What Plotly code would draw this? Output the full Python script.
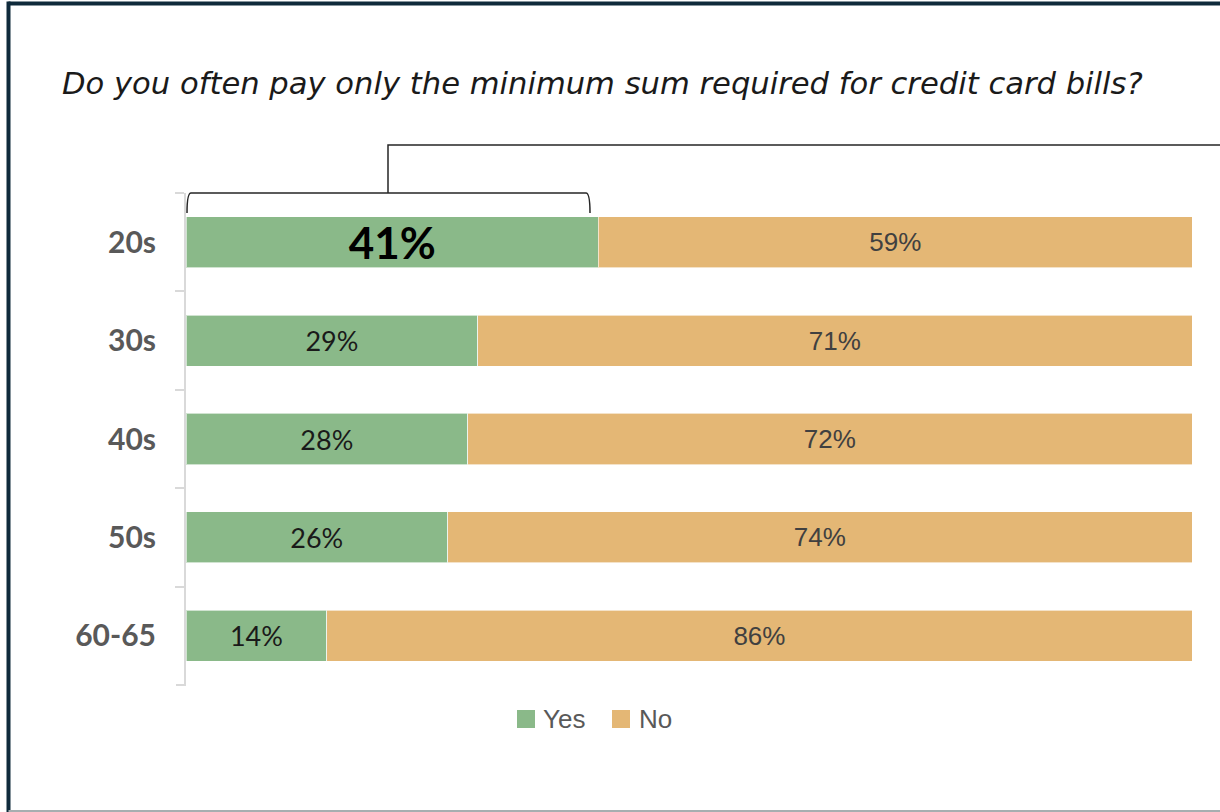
import plotly.graph_objects as go

# Survey results by age group
age_groups = ["20s", "30s", "40s", "50s", "60-65"]
yes_pct = [41, 29, 28, 26, 14]
no_pct = [59, 71, 72, 74, 86]
series_names = ["Yes", "No"]
series_colors = ["#8AB989", "#E4B775"]

title_text = "Do you often pay only the minimum sum required for credit card bills?"

W, H = 1220, 812
ML, MR, MT, MB = 186, 28, 193, 127
PW, PH = W - ML - MR, H - MT - MB


def px_x(px):
    """Pixel x -> paper x."""
    return (px - ML) / PW


def px_y(py):
    """Pixel y (from top) -> paper y."""
    return (H - MB - py) / PH


# Highlight the largest "Yes" share
top = max(yes_pct)
yes_text = [f"<b>{v}%</b>" if v == top else f"{v}%" for v in yes_pct]
yes_sizes = [44 if v == top else 27 for v in yes_pct]
yes_colors = ["#000000" if v == top else "#1a1a1a" for v in yes_pct]

fig = go.Figure()
fig.add_trace(go.Bar(
    y=age_groups, x=yes_pct, orientation="h", name=series_names[0],
    marker=dict(color=series_colors[0], line=dict(color="rgba(255,255,255,0.6)", width=1)),
    text=yes_text, textposition="inside", insidetextanchor="middle",
    constraintext="none",
    textfont=dict(family="Lato", size=yes_sizes, color=yes_colors),
    hoverinfo="skip",
))
fig.add_trace(go.Bar(
    y=age_groups, x=no_pct, orientation="h", name=series_names[1],
    marker=dict(color=series_colors[1], line=dict(color="rgba(255,255,255,0.6)", width=1)),
    text=[f"{v}%" for v in no_pct], textposition="inside", insidetextanchor="middle",
    constraintext="none",
    textfont=dict(family="Liberation Sans, Arial", size=26, color="#404040"),
    hoverinfo="skip",
))

shapes = []
# Bracket over the 20s "Yes" segment, with a leader line running right
x0b, x1b = px_x(187), px_x(590)
xm = px_x(388)
yb_top, yb_end = px_y(193), px_y(213)
shapes.append(dict(
    type="path", xref="paper", yref="paper",
    path=(f"M {x0b} {yb_end} Q {x0b} {yb_top} {px_x(191)} {yb_top} "
          f"L {px_x(586)} {yb_top} Q {x1b} {yb_top} {x1b} {yb_end}"),
    line=dict(color="#262626", width=1.5),
))
shapes.append(dict(
    type="path", xref="paper", yref="paper",
    path=f"M {xm} {yb_top} L {xm} {px_y(145)} L {px_x(1222)} {px_y(145)}",
    line=dict(color="#262626", width=1.5),
))

# Closing tick at the bottom of the category axis
shapes.append(dict(type="line", xref="paper", yref="paper",
                   x0=px_x(176), x1=px_x(186), y0=0, y1=0,
                   line=dict(color="#D9D9D9", width=2)))

# Outer frame: dark top and left edges, grey bottom edge
frame_dark = "#0F2A3B"
shapes.append(dict(type="line", xref="paper", yref="paper",
                   x0=px_x(8.5), x1=px_x(1222), y0=px_y(3.5), y1=px_y(3.5),
                   line=dict(color=frame_dark, width=4)))
shapes.append(dict(type="line", xref="paper", yref="paper",
                   x0=px_x(8.5), x1=px_x(8.5), y0=px_y(1.5), y1=px_y(814),
                   line=dict(color=frame_dark, width=4)))
shapes.append(dict(type="line", xref="paper", yref="paper",
                   x0=px_x(8.5), x1=px_x(1222), y0=px_y(811), y1=px_y(811),
                   line=dict(color="#A6AEB0", width=2)))

# Legend drawn as swatches and labels
annotations = []
legend_items = [(517, 541), (612, 637)]
for (sx, tx), name, color in zip(legend_items, series_names, series_colors):
    shapes.append(dict(type="rect", xref="paper", yref="paper",
                       x0=px_x(sx), x1=px_x(sx + 18), y0=px_y(710), y1=px_y(728),
                       fillcolor=color, line=dict(width=0)))
    annotations.append(dict(xref="paper", yref="paper", x=px_x(tx), y=px_y(719),
                            xanchor="left", yanchor="middle", showarrow=False,
                            text=name, font=dict(family="Liberation Sans, Arial", size=26, color="#595959")))

fig.update_layout(
    width=W, height=H,
    margin=dict(l=ML, r=MR, t=MT, b=MB),
    paper_bgcolor="white", plot_bgcolor="white",
    barmode="stack", bargap=0.48,
    showlegend=False,
    title=dict(text=f"<i>{title_text}</i>", xref="container", yref="container",
               x=62 / W, xanchor="left", y=1 - 83 / H, yanchor="middle",
               font=dict(family="DejaVu Sans", size=30.6, color="#1a1a1a")),
    xaxis=dict(range=[0, 100], visible=False, fixedrange=True),
    yaxis=dict(autorange="reversed", type="category",
               showline=True, linecolor="#D9D9D9", linewidth=2,
               ticks="outside", ticklen=9, tickcolor="#D9D9D9", tickwidth=2,
               tickson="boundaries", ticklabelstandoff=22,
               tickfont=dict(family="Lato", size=30, color="#595959", weight="bold"),
               showgrid=False, zeroline=False, fixedrange=True),
    shapes=shapes,
    annotations=annotations,
)

fig.write_html("out.html")
